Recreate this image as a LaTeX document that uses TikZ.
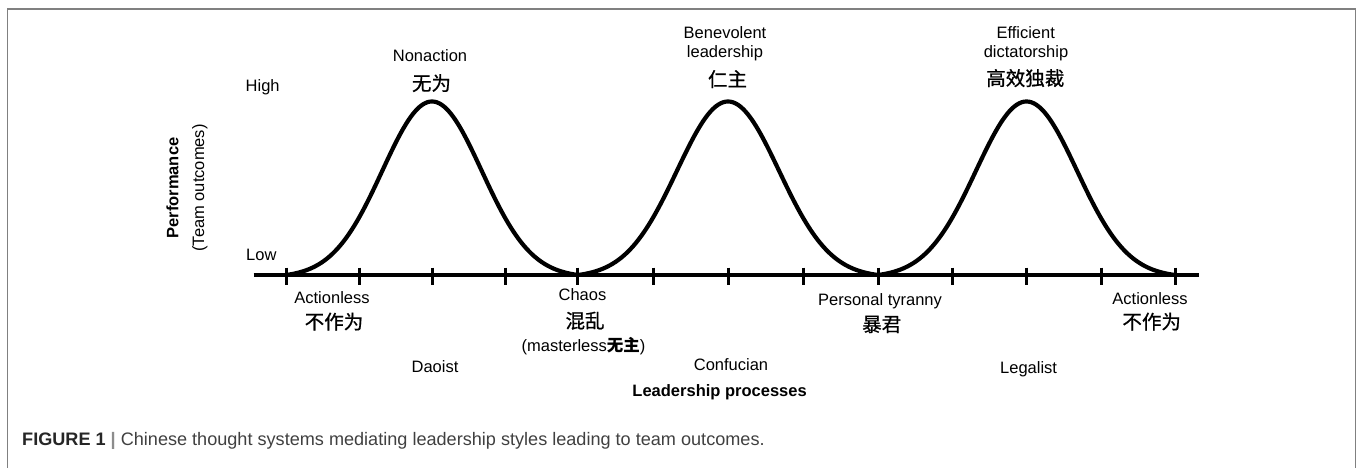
\documentclass[tikz,border=0pt]{standalone}
\usepackage{fontspec}
\setmainfont{Liberation Sans}
\newfontfamily\cjk[FakeBold=0.8]{Noto Sans CJK SC}
\newfontfamily\cjkb{Noto Sans CJK SC}
\begin{document}
\begin{tikzpicture}[x=1pt,y=-1pt,
  lbl/.style={font=\fontsize{16.5}{19}\selectfont, inner sep=0pt, anchor=base},
  boldlbl/.style={font=\fontsize{16.5}{19}\selectfont\bfseries, inner sep=0pt, anchor=base},
  cjklbl/.style={font=\cjk\fontsize{19.5}{22}\selectfont, inner sep=0pt, anchor=base},
  curveline/.style={line width=4.2pt, line join=round, line cap=round},
  axisline/.style={line width=4pt},
  tickline/.style={line width=3pt},
  framebox/.style={draw=black!50, line width=1.5pt}]
\useasboundingbox (0,0) rectangle (1357,467);
\draw[framebox] (7.5,480) -- (7.5,9) -- (1355.5,9) -- (1355.5,480);
% axis
\coordinate (axL) at (253.6,275);
\coordinate (axR) at (1198.5,275);
\draw[axisline] (axL) -- (axR);
% ticks
\foreach \tx [count=\i] in {286,359,432.7,505,577.7,653.3,728.3,803,878.3,952.7,1026.7,1101,1175.3}{
  \coordinate (ta\i) at (\tx,267.5);
  \coordinate (tb\i) at (\tx,284.5);
  \draw[tickline] (ta\i) -- (tb\i);
}
% bells
\foreach \cx/\hw in {432/146, 728/150, 1026.5/148.5}{
  \draw[curveline] plot[domain=-1:1, samples=121, smooth]
    ({\cx+\hw*\x}, {275-173.5*(exp(-(\x*\x)/0.2312)-0.01323)/0.98677});
}
% y labels
\node[lbl, anchor=base west] (high) at (245.5,91.5) {High};
\node[lbl, anchor=base west] (low) at (246,260) {Low};
\node[boldlbl, rotate=90] (perf) at (178.3,188) {Performance};
\node[lbl, rotate=90] (team) at (204,188) {(Team outcomes)};
% peak labels
\node[lbl] (nonact) at (430,61.5) {Nonaction};
\node[cjklbl] (wuwei) at (431.5,90.5) {无为};
\node[lbl] (benev) at (725,38.3) {Benevolent};
\node[lbl] (benev2) at (725,57) {leadership};
\node[cjklbl] (renzhu) at (727.5,86.5) {仁主};
\node[lbl] (effic) at (1025.7,38.3) {Efficient};
\node[lbl] (effic2) at (1026,57) {dictatorship};
\node[cjklbl] (gaoxiao) at (1025.3,85.5) {高效独裁};
% trough labels
\node[lbl] (actL) at (332,303.5) {Actionless};
\node[cjklbl] (buzuoL) at (334,329) {不作为};
\node[lbl] (chaos) at (582.5,300.7) {Chaos};
\node[cjklbl] (hunluan) at (585,328) {混乱};
\node[lbl] (master) at (583.5,351) {(masterless{\cjkb\bfseries 无主})};
\node[lbl] (tyr) at (880,305) {Personal tyranny};
\node[cjklbl] (baojun) at (881.7,331.5) {暴君};
\node[lbl] (actR) at (1150,304) {Actionless};
\node[cjklbl] (buzuoR) at (1151.7,329) {不作为};
% schools
\node[lbl] (dao) at (435,372.5) {Daoist};
\node[lbl] (conf) at (731,370.5) {Confucian};
\node[lbl] (legal) at (1028.6,373) {Legalist};
\node[boldlbl] (proc) at (719.6,396.5) {Leadership processes};
% caption
\node[inner sep=0pt, anchor=base west, font=\fontsize{18.1}{21}\selectfont] (cap) at (22,445.5)
  {\textcolor{black!85}{\bfseries FIGURE 1} \textcolor{black!45}{\bfseries |} \textcolor{black!75}{Chinese thought systems mediating leadership styles leading to team outcomes.}};
\end{tikzpicture}
\end{document}
